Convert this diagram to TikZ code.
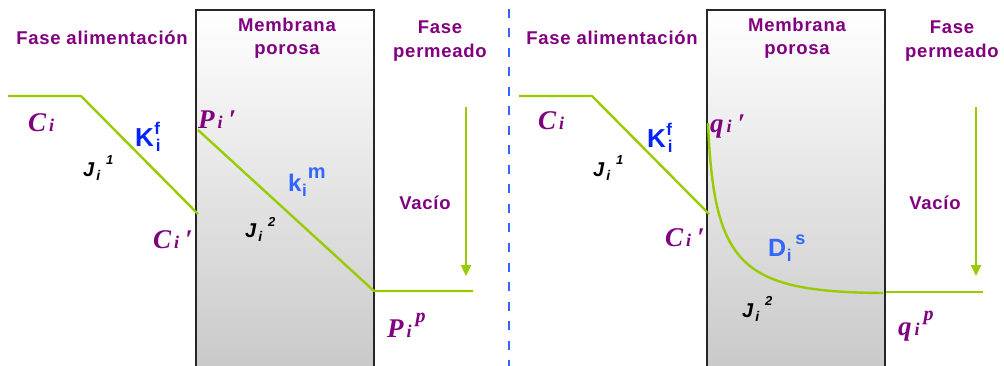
\documentclass[tikz,border=0pt]{standalone}
\usepackage{fontspec}
\setmainfont{Liberation Sans}
\newfontfamily\tms{Liberation Serif}
\usetikzlibrary{arrows.meta}
\definecolor{pur}{HTML}{800080}
\definecolor{grn}{HTML}{99CC00}
\definecolor{blu}{HTML}{0022FF}
\definecolor{lblu}{HTML}{3366FF}
\definecolor{boxgray}{RGB}{198,198,198}
\newcommand{\Sv}[3]{{\tms\bfseries\itshape\fontsize{27}{27}\selectfont #1\hspace{3pt}{\fontsize{18}{18}\selectfont #2}#3}}
\newcommand{\Jl}[1]{{\bfseries\itshape\fontsize{20}{20}\selectfont J\hspace{2pt}\raisebox{-4pt}{\fontsize{14}{14}\selectfont i}\hspace{6pt}\raisebox{12pt}{\fontsize{13}{13}\selectfont #1}}}
\newcommand{\Kl}{{\bfseries\fontsize{26}{26}\selectfont K\hspace{0.5pt}{\fontsize{17}{17}\selectfont\rlap{\raisebox{12pt}{f}}\hspace{1.5pt}\raisebox{-5pt}{i}}}}
\newcommand{\Prm}{\hspace{6pt}{\fontsize{27}{27}\selectfont ′}}
\begin{document}
\begin{tikzpicture}[x=1pt,y=-1pt,
  title/.style={text=pur,font=\bfseries\fontsize{18.5}{18.5}\selectfont\addfontfeature{LetterSpace=4},inner sep=0pt,anchor=base},
  lab/.style={inner sep=0pt,anchor=base west},
  membox/.style={draw=black!85,line width=1.8pt,top color=white,bottom color=boxgray,inner sep=0pt,anchor=north west,minimum width=178pt,minimum height=380pt},
  prof/.style={draw=grn,line width=2.4pt,line join=miter},
  vac/.style={draw=grn,line width=2.4pt,-{Triangle[width=10pt,length=11pt]}}
]
\useasboundingbox (0,0) rectangle (1004,366);
\clip (0,0) rectangle (1004,366);
\fill[white] (0,0) rectangle (1004,366);

% membranes
\node (mem1) [membox] at (195,9) {};
\node (mem2) [membox] at (706,9) {};

% separator
\coordinate (sepT) at (509,9);
\coordinate (sepB) at (509,370);
\draw[lblu,line width=2pt,dash pattern=on 9pt off 10.5pt] (sepT) -- (sepB);

% titles left
\node (tA1) [title] at (102,45) {Fase alimentación};
\node (tM1a) [title] at (287,32) {Membrana};
\node (tM1b) [title] at (287,55) {porosa};
\node (tP1a) [title] at (440,34) {Fase};
\node (tP1b) [title] at (440,58) {permeado};
\node (tV1) [title] at (425,210) {Vacío};
% titles right
\node (tA2) [title] at (612,45) {Fase alimentación};
\node (tM2a) [title] at (797,32) {Membrana};
\node (tM2b) [title] at (797,55) {porosa};
\node (tP2a) [title] at (952,34) {Fase};
\node (tP2b) [title] at (952,58) {permeado};
\node (tV2) [title] at (935,210) {Vacío};

% profile left
\coordinate (a0) at (8,96);
\coordinate (a1) at (81,96);
\coordinate (a2) at (198,214);
\coordinate (b0) at (198,130);
\coordinate (b1) at (374,291);
\coordinate (b2) at (473,291);
\draw[prof] (a0) -- (a1) -- (a2);
\draw[prof] (b0) -- (b1) -- (b2);
\coordinate (v1t) at (466,107);
\coordinate (v1b) at (466,276);
\draw[vac] (v1t) -- (v1b);

% profile right
\coordinate (c0) at (519,96);
\coordinate (c1) at (592,96);
\coordinate (c2) at (709,214);
\coordinate (d0) at (708,123);
\coordinate (d1) at (883,293);
\coordinate (e0) at (886,292);
\coordinate (e1) at (983,292);
\draw[prof] (c0) -- (c1) -- (c2);
\draw[prof] (d0) .. controls (714,265) and (740,292) .. (d1);
\draw[prof] (e0) -- (e1);
\coordinate (v2t) at (976,107);
\coordinate (v2b) at (976,276);
\draw[vac] (v2t) -- (v2b);

% labels left
\node (Ci1) [lab,text=pur] at (28,132) {\Sv{C}{i}{}};
\node (Kf1) [lab,text=blu] at (135,147) {\Kl};
\node (J11) [lab] at (83,177) {\Jl{1}};
\node (Pp1) [lab,text=pur] at (198,129) {\Sv{P}{i}{\Prm}};
\node (km1) [lab,text=lblu] at (288,192) {{\bfseries\fontsize{24}{24}\selectfont k\hspace{0.5pt}\raisebox{-5pt}{\fontsize{17}{17}\selectfont i}\hspace{1pt}\raisebox{13pt}{\fontsize{20}{20}\selectfont m}}};
\node (Cp1) [lab,text=pur] at (153,248) {\Sv{C}{i}{\Prm}};
\node (J21) [lab] at (245,238) {\Jl{2}};
\node (Ppp1) [lab,text=pur] at (387,337) {\Sv{P}{i}{\hspace{4pt}\raisebox{15pt}{\fontsize{20}{20}\selectfont p}}};

% labels right
\node (Ci2) [lab,text=pur] at (538,130) {\Sv{C}{i}{}};
\node (Kf2) [lab,text=blu] at (647,148) {\Kl};
\node (J12) [lab] at (593,177) {\Jl{1}};
\node (qp2) [lab,text=pur] at (710,133) {\Sv{q}{i}{\Prm}};
\node (Cp2) [lab,text=pur] at (665,247) {\Sv{C}{i}{\Prm}};
\node (Ds2) [lab,text=lblu] at (768,257) {{\bfseries\fontsize{25}{25}\selectfont D\hspace{0.5pt}\raisebox{-5pt}{\fontsize{17}{17}\selectfont i}\hspace{4pt}\raisebox{13pt}{\fontsize{18}{18}\selectfont s}}};
\node (J22) [lab] at (742,317) {\Jl{2}};
\node (qpp2) [lab,text=pur] at (898,335) {\Sv{q}{i}{\hspace{4pt}\raisebox{15pt}{\fontsize{20}{20}\selectfont p}}};
\end{tikzpicture}
\end{document}
